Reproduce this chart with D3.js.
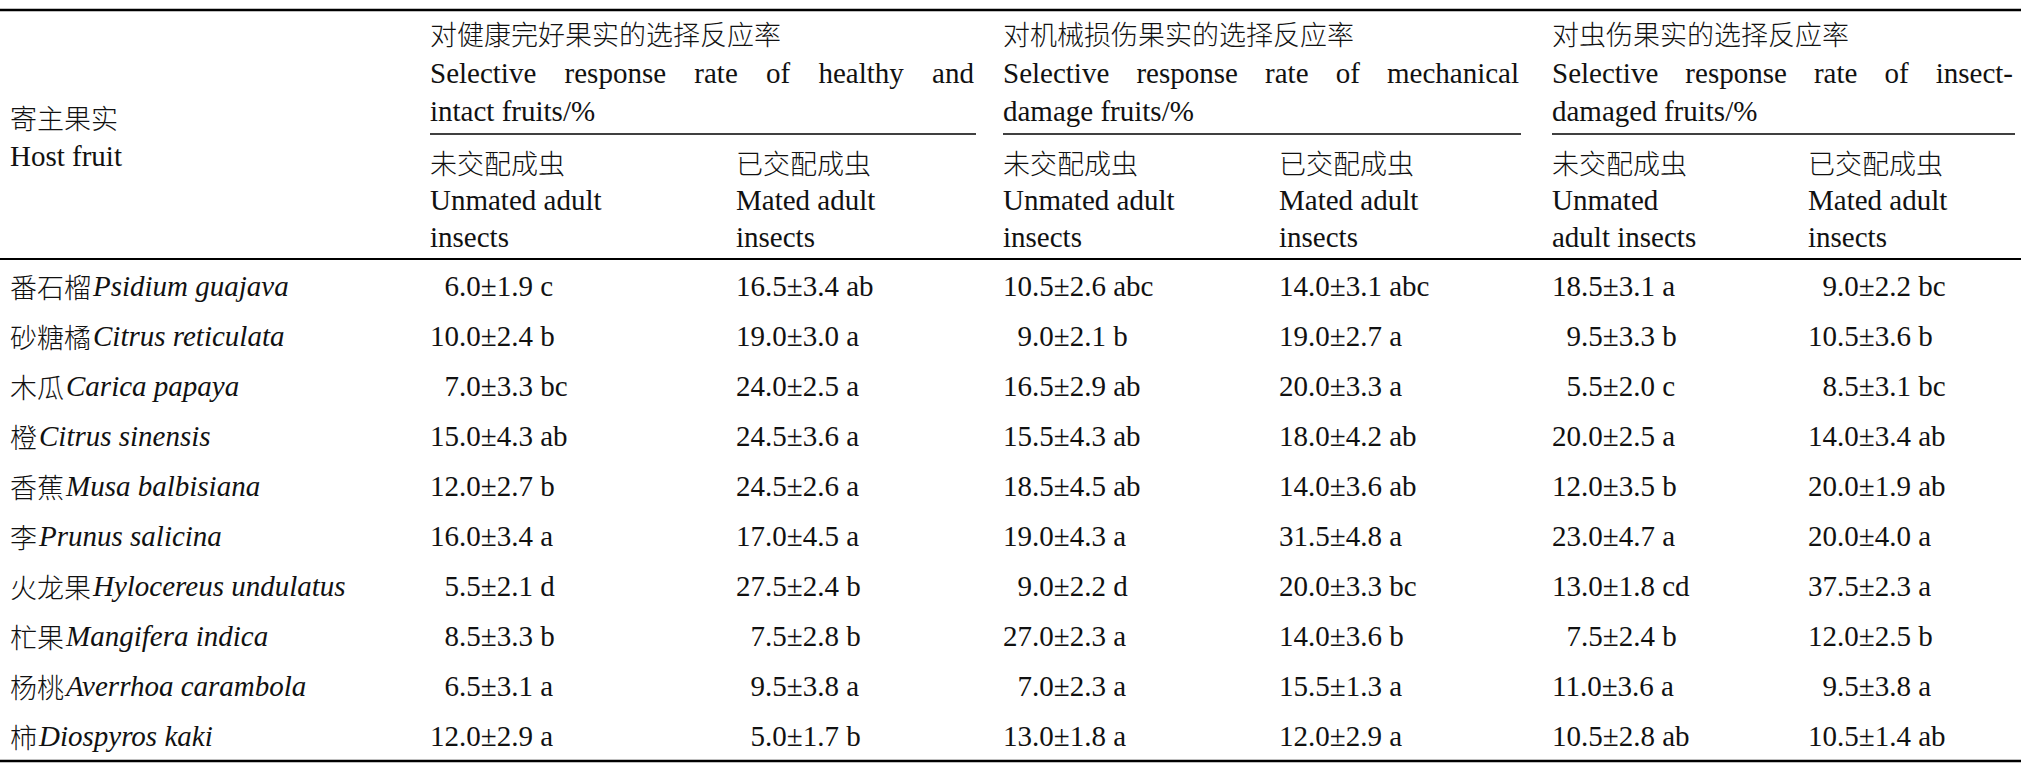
<!DOCTYPE html>
<html><head><meta charset="utf-8">
<script src="https://cdn.jsdelivr.net/npm/d3@7"></script>
<style>body{margin:0;background:#fff} .s{font-family:"Liberation Serif","Times New Roman","DejaVu Serif",serif}</style>
</head><body><svg id="t" width="2021" height="768"></svg>
<script>
const fruitsCn = ["番石榴","砂糖橘","木瓜","橙","香蕉","李","火龙果","杧果","杨桃","柿"];
const fruitsLatin = ["Psidium guajava","Citrus reticulata","Carica papaya","Citrus sinensis","Musa balbisiana","Prunus salicina","Hylocereus undulatus","Mangifera indica","Averrhoa carambola","Diospyros kaki"];
const groupCn = ["对健康完好果实的选择反应率","对机械损伤果实的选择反应率","对虫伤果实的选择反应率"];
const groupEn = [["Selective response rate of healthy and","intact fruits/%"],["Selective response rate of mechanical","damage fruits/%"],["Selective response rate of insect-","damaged fruits/%"]];
const subCn = ["未交配成虫","已交配成虫"];
const subEn = [["Unmated adult","insects"],["Mated adult","insects"]];
const subEnAlt = ["Unmated","adult insects"];

const healthyUnmated = ["6.0±1.9 c","10.0±2.4 b","7.0±3.3 bc","15.0±4.3 ab","12.0±2.7 b","16.0±3.4 a","5.5±2.1 d","8.5±3.3 b","6.5±3.1 a","12.0±2.9 a"];
const healthyMated = ["16.5±3.4 ab","19.0±3.0 a","24.0±2.5 a","24.5±3.6 a","24.5±2.6 a","17.0±4.5 a","27.5±2.4 b","7.5±2.8 b","9.5±3.8 a","5.0±1.7 b"];
const mechUnmated = ["10.5±2.6 abc","9.0±2.1 b","16.5±2.9 ab","15.5±4.3 ab","18.5±4.5 ab","19.0±4.3 a","9.0±2.2 d","27.0±2.3 a","7.0±2.3 a","13.0±1.8 a"];
const mechMated = ["14.0±3.1 abc","19.0±2.7 a","20.0±3.3 a","18.0±4.2 ab","14.0±3.6 ab","31.5±4.8 a","20.0±3.3 bc","14.0±3.6 b","15.5±1.3 a","12.0±2.9 a"];
const insectUnmated = ["18.5±3.1 a","9.5±3.3 b","5.5±2.0 c","20.0±2.5 a","12.0±3.5 b","23.0±4.7 a","13.0±1.8 cd","7.5±2.4 b","11.0±3.6 a","10.5±2.8 ab"];
const insectMated = ["9.0±2.2 bc","10.5±3.6 b","8.5±3.1 bc","14.0±3.4 ab","20.0±1.9 ab","20.0±4.0 a","37.5±2.3 a","12.0±2.5 b","9.5±3.8 a","10.5±1.4 ab"];
const columns = [healthyUnmated, healthyMated, mechUnmated, mechMated, insectUnmated, insectMated];

const svg = d3.select("#t");
const cjk = "'Noto Sans CJK SC',sans-serif";
const fs = 29;
const colX = [430, 736, 1003, 1279, 1552, 1808];
const groupSpan = [[430, 976], [1003, 1521], [1552, 2015]];
const y = d3.scaleBand().domain(d3.range(fruitsCn.length)).range([261, 761]);

function line(x1, x2, yy, w) {
  svg.append("line").attr("x1", x1).attr("x2", x2).attr("y1", yy).attr("y2", yy)
    .attr("stroke", "#000").attr("stroke-width", w);
}
line(0, 2021, 10, 2.5);
line(0, 2021, 259, 2);
line(0, 2021, 761, 2.5);
groupSpan.forEach(s => line(s[0], s[1], 134, 1.5));

function txt(x, yy, s, isCjk) {
  const t = svg.append("text").attr("x", x).attr("y", yy)
    .attr("font-size", isCjk ? 27 : fs).attr("dominant-baseline", "central").attr("fill", "#111").text(s);
  if (isCjk) t.attr("font-family", cjk).attr("font-weight", 300); else t.attr("class", "s");
  return t;
}
function justify(t, width) {
  const s = t.text();
  const gaps = s.split(" ").length - 1;
  const w = t.node().getComputedTextLength();
  if (gaps > 0) t.attr("word-spacing", (width - w) / gaps);
}
txt(10, 117, "寄主果实", true);
txt(10, 156, "Host fruit");

groupCn.forEach((g, i) => {
  const x0 = groupSpan[i][0];
  txt(x0, 33, g, true);
  justify(txt(x0, 73, groupEn[i][0]), groupSpan[i][1] - x0 - 2);
  txt(x0, 111, groupEn[i][1]);
});
colX.forEach((x, i) => {
  txt(x, 162, subCn[i % 2], true);
  const en = i === 4 ? subEnAlt : subEn[i % 2];
  txt(x, 200, en[0]);
  txt(x, 237, en[1]);
});

fruitsCn.forEach((f, r) => {
  const cy = y(r) + y.bandwidth() / 2;
  const t = svg.append("text").attr("x", 10).attr("y", cy).attr("dominant-baseline", "central")
    .attr("fill", "#111");
  t.append("tspan").attr("font-family", cjk).attr("font-weight", 300).attr("font-size", 27).text(f);
  t.append("tspan").attr("class", "s").attr("font-size", fs).attr("font-style", "italic")
    .attr("dx", 2).text(fruitsLatin[r]);
});

const digitW = fs * 0.5;
columns.forEach((col, c) => {
  col.forEach((v, r) => {
    const cy = y(r) + y.bandwidth() / 2;
    const pad = parseFloat(v) < 10 ? digitW : 0;
    txt(colX[c] + pad, cy, v);
  });
});
</script></body></html>
